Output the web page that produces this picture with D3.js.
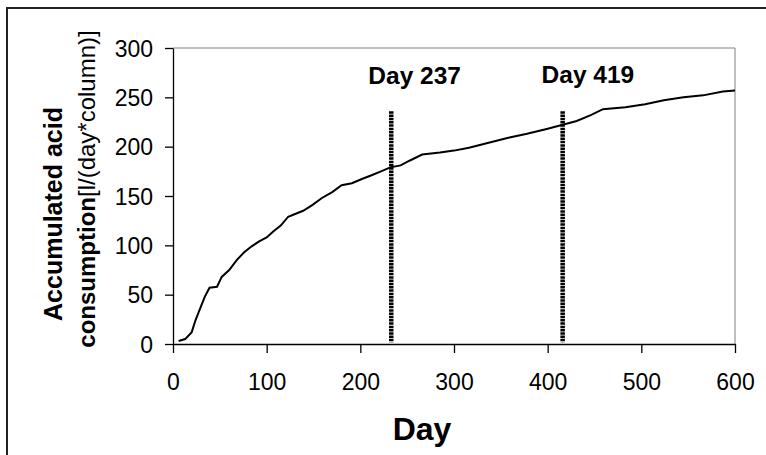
<!DOCTYPE html>
<html>
<head>
<meta charset="utf-8">
<script src="https://cdn.jsdelivr.net/npm/d3@7"></script>
<style>
  body { margin: 0; background: #fff; }
  svg { display: block; font-family: 'Liberation Sans', Arial, sans-serif; }
</style>
</head>
<body>
<div id="chart"></div>
<script>
// accumulated acid consumption
const days = [6, 13, 20, 24, 29, 34, 39, 47, 52, 60, 68, 76, 84, 92, 100, 107, 115, 123, 131, 139,
  149, 159, 170, 180, 191, 201, 212, 222, 232, 243, 253, 266, 285, 300, 316, 337, 358, 378, 399,
  415, 431, 446, 459, 483, 504, 524, 545, 566, 587, 600];
const acid = [3, 5, 12, 24, 36, 48, 57, 58, 68, 75, 85, 93, 99, 104, 108, 114, 120, 129, 132, 135,
  141, 148, 154, 161, 163, 167, 171, 175, 179, 181, 186, 192, 194, 196, 199, 204, 209, 213, 218,
  222, 226, 232, 238, 240, 243, 247, 250, 252, 256, 257];

// marker lines (drawn position, label)
const markerDays = [233, 416];
const markerLabels = ['Day 237', 'Day 419'];
const markerTop = 236;
const labelPos = [[258, 264], [443, 265]];

const xTicks = [0, 100, 200, 300, 400, 500, 600];
const yTicks = [0, 50, 100, 150, 200, 250, 300];

const width = 766, height = 455;
const margin = {top: 48, right: 31, bottom: 111, left: 173};

const svg = d3.select('#chart').append('svg')
  .attr('width', width)
  .attr('height', height);

svg.append('rect').attr('width', width).attr('height', height).attr('fill', '#fff');

// outer frame (only left and top edges fall inside the picture)
svg.append('path')
  .attr('d', `M7,${height} V8 H${width}`)
  .attr('fill', 'none')
  .attr('stroke', '#222')
  .attr('stroke-width', 2);

const x = d3.scaleLinear().domain([0, 600]).range([margin.left, width - margin.right]);
const y = d3.scaleLinear().domain([0, 300]).range([height - margin.bottom, margin.top]);

// plot area border top/right
svg.append('path')
  .attr('d', `M${x(0)},${y(300)} H${x(600)} V${y(0)}`)
  .attr('fill', 'none')
  .attr('stroke', '#808080')
  .attr('stroke-width', 1);

const xAxis = d3.axisBottom(x).tickValues(xTicks).tickSize(9).tickSizeOuter(0).tickPadding(12);
const yAxis = d3.axisLeft(y).tickValues(yTicks).tickSize(8).tickSizeOuter(0).tickPadding(12);

const gx = svg.append('g')
  .attr('transform', `translate(0,${y(0)})`)
  .call(xAxis);
const gy = svg.append('g')
  .attr('transform', `translate(${x(0)},0)`)
  .call(yAxis);

[gx, gy].forEach(g => {
  g.selectAll('path, line').attr('stroke', '#000').attr('stroke-width', 1.3);
  g.selectAll('text')
    .attr('fill', '#000')
    .style('font-size', '23px')
    .style('font-family', "'Liberation Sans', Arial, sans-serif");
});
gx.selectAll('text').attr('y', 46).attr('dy', 0);
gy.selectAll('text').attr('dy', '0.36em');

// the curve
const pts = days.map((d, i) => [d, acid[i]]);
svg.append('path')
  .datum(pts)
  .attr('fill', 'none')
  .attr('stroke', '#000')
  .attr('stroke-width', 2)
  .attr('stroke-linejoin', 'miter')
  .attr('d', d3.line().x(d => x(d[0])).y(d => y(d[1])));

// marker lines
svg.selectAll('.marker')
  .data(markerDays)
  .enter().append('line')
    .attr('class', 'marker')
    .attr('x1', d => x(d)).attr('x2', d => x(d))
    .attr('y1', y(markerTop)).attr('y2', y(1.5))
    .attr('stroke', '#000')
    .attr('stroke-width', 4.5)
    .attr('stroke-dasharray', '2.5,0.8');

svg.selectAll('.marker-label')
  .data(markerLabels)
  .enter().append('text')
    .attr('class', 'marker-label')
    .attr('x', (d, i) => x(labelPos[i][0]))
    .attr('y', (d, i) => y(labelPos[i][1]))
    .attr('text-anchor', 'middle')
    .style('font-size', '24.5px')
    .style('font-weight', 'bold')
    .text(d => d);

// axis titles
svg.append('text')
  .attr('x', 422).attr('y', 440)
  .attr('text-anchor', 'middle')
  .style('font-size', '32px')
  .style('font-weight', 'bold')
  .text('Day');

svg.append('text')
  .attr('transform', 'translate(62,214) rotate(-90)')
  .attr('text-anchor', 'middle')
  .style('font-size', '25px')
  .style('font-weight', 'bold')
  .text('Accumulated acid');

const t2 = svg.append('text')
  .attr('transform', 'translate(95,189) rotate(-90)')
  .attr('text-anchor', 'middle')
  .style('font-size', '24px');
t2.append('tspan').style('font-weight', 'bold').text('consumption');
t2.append('tspan').text('[l/(day*column)]');
</script>
</body>
</html>
